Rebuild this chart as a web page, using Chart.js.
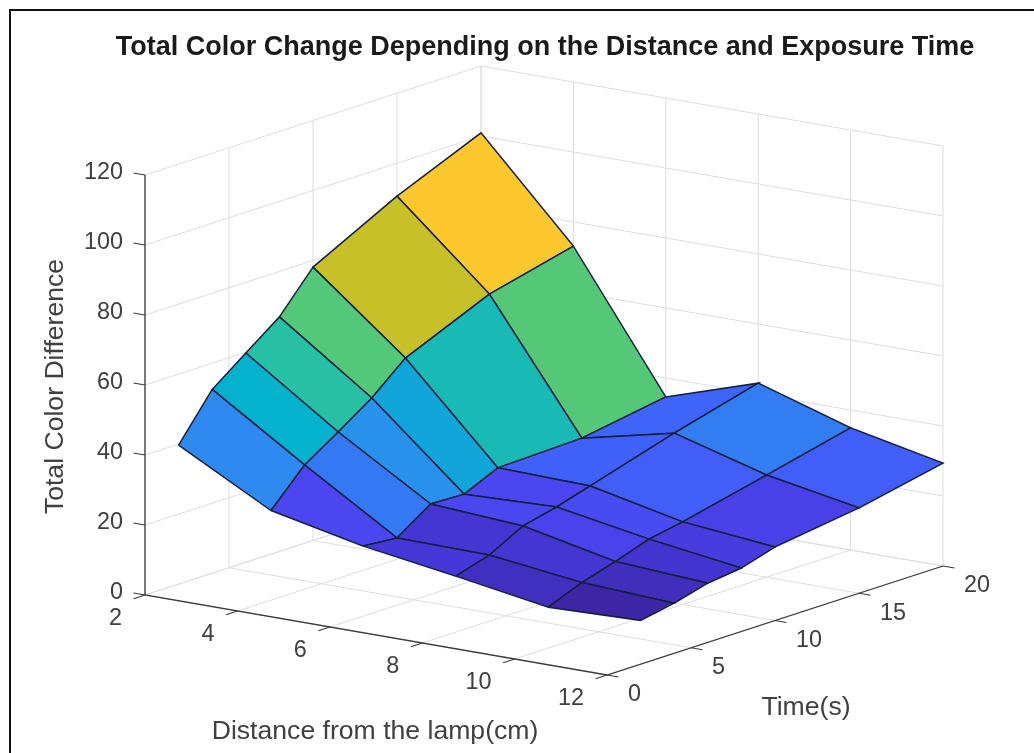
<!DOCTYPE html>
<html>
<head>
<meta charset="utf-8">
<title>Total Color Change</title>
<script src="https://cdn.jsdelivr.net/npm/chart.js@4"></script>
<style>
    html, body { margin: 0; padding: 0; background: #fff; }
    #wrap { position: relative; width: 1034px; height: 753px; overflow: hidden; }
    #frame { position: absolute; left: 9px; top: 9px; width: 1100px; height: 800px; border: 2px solid #111; }
    #chart { position: absolute; left: 0; top: 0; }
</style>
</head>
<body>
<div id="wrap">
    <div id="frame"></div>
    <canvas id="chart" width="1034" height="753"></canvas>
</div>
<script>
const distances = [2, 4, 6, 8, 10, 12];
const times = [2, 4, 6, 8, 10, 15, 20];

// Total colour difference, one row per time, one column per distance
const colorDiffT2 = [39.7, 25.6, 20.0, 16.0, 11.7, 12.5];
const colorDiffT4 = [52.5, 35.5, 19.2, 18.9, 15.6, 14.3];
const colorDiffT6 = [59.8, 41.8, 25.8, 24.1, 18.5, 16.9];
const colorDiffT8 = [67.0, 48.4, 25.5, 26.4, 21.8, 18.1];
const colorDiffT10 = [78.1, 56.7, 29.9, 29.3, 23.6, 21.0];
const colorDiffT15 = [90.6, 67.2, 30.6, 36.6, 29.2, 24.4];
const colorDiffT20 = [100.9, 73.1, 34.6, 43.1, 34.9, 29.4];
const colorDiff = [colorDiffT2, colorDiffT4, colorDiffT6, colorDiffT8, colorDiffT10, colorDiffT15, colorDiffT20];

const distanceTicks = [2, 4, 6, 8, 10, 12];
const timeTicks = [0, 5, 10, 15, 20];
const diffTicks = [0, 20, 40, 60, 80, 100, 120];

const titleText = 'Total Color Change Depending on the Distance and Exposure Time';
const distanceLabel = 'Distance from the lamp(cm)';
const timeLabel = 'Time(s)';
const diffLabel = 'Total Color Difference';

const GRID_COLOR = '#dddddd';
const AXIS_COLOR = '#3c3c3c';
const EDGE_COLOR = '#14203c';
const TEXT_COLOR = '#404040';
const FONT = '"Liberation Sans", Arial, sans-serif';

// Colormap stops (parula like), position 0-1 then rgb
const colormap = [
    [0, 60, 38, 165],
    [0.09, 70, 55, 215],
    [0.156, 75, 70, 240],
    [0.2, 64, 96, 250],
    [0.32, 45, 140, 240],
    [0.457, 5, 178, 205],
    [0.54, 40, 192, 165],
    [0.62, 82, 200, 120],
    [0.745, 200, 192, 40],
    [0.885, 253, 200, 46],
    [1, 249, 251, 20]
];

// Orthographic view of the 3D box onto the flat x/y scales of the chart
function project(d, t, z) {
    return {
        x: 145 + 46.2 * (d - 2) + 16.8 * t,
        y: 158 - 8 * (d - 2) + 5.45 * t + 3.5 * z
    };
}

function colorFor(value, min, max) {
    const pos = (value - min) / (max - min);
    for (let i = 1; i < colormap.length; i++) {
        const a = colormap[i - 1];
        const b = colormap[i];
        if (pos <= b[0]) {
            const f = (pos - a[0]) / (b[0] - a[0]);
            return `rgb(${a[1] + (b[1] - a[1]) * f}, ${a[2] + (b[2] - a[2]) * f}, ${a[3] + (b[3] - a[3]) * f})`;
        }
    }
    return 'rgb(249, 251, 20)';
}

function lineDataset(points, color, width) {
    return {
        data: points,
        showLine: true,
        pointRadius: 0,
        borderColor: color,
        borderWidth: width,
        fill: false,
        tension: 0
    };
}

// Drawn first: grid on floor and the two back walls
function buildGrid() {
    const sets = [];
    const dMin = distanceTicks[0];
    const dMax = distanceTicks[distanceTicks.length - 1];
    const tMin = timeTicks[0];
    const tMax = timeTicks[timeTicks.length - 1];
    const zMin = diffTicks[0];
    const zMax = diffTicks[diffTicks.length - 1];

    distanceTicks.forEach(d => {
        sets.push(lineDataset([project(d, tMin, zMin), project(d, tMax, zMin), project(d, tMax, zMax)], GRID_COLOR, 1));
    });
    timeTicks.forEach(t => {
        sets.push(lineDataset([project(dMax, t, zMin), project(dMin, t, zMin), project(dMin, t, zMax)], GRID_COLOR, 1));
    });
    diffTicks.forEach(z => {
        sets.push(lineDataset([project(dMin, tMin, z), project(dMin, tMax, z), project(dMax, tMax, z)], GRID_COLOR, 1));
    });
    return sets;
}

function buildAxes() {
    const sets = [];
    const dMin = distanceTicks[0];
    const dMax = distanceTicks[distanceTicks.length - 1];
    const tMin = timeTicks[0];
    const tMax = timeTicks[timeTicks.length - 1];
    const zMin = diffTicks[0];
    const zMax = diffTicks[diffTicks.length - 1];

    sets.push(lineDataset([project(dMin, tMin, zMax), project(dMin, tMin, zMin), project(dMax, tMin, zMin), project(dMax, tMax, zMin)], AXIS_COLOR, 1.3));

    // Tick marks run along the neighbouring axis
    distanceTicks.forEach(d => {
        sets.push(lineDataset([project(d, tMin, zMin), project(d, tMin - 0.68, zMin)], AXIS_COLOR, 1.2));
    });
    timeTicks.forEach(t => {
        sets.push(lineDataset([project(dMax, t, zMin), project(dMax + 0.25, t, zMin)], AXIS_COLOR, 1.2));
    });
    diffTicks.forEach(z => {
        sets.push(lineDataset([project(dMin, tMin, z), project(dMin - 0.25, tMin, z)], AXIS_COLOR, 1.2));
    });
    return sets;
}

// One closed dataset per surface cell, far cells first
function buildSurface() {
    const sets = [];
    const all = colorDiff.flat();
    const min = Math.min(...all);
    const max = Math.max(...all);

    for (let i = times.length - 2; i >= 0; i--) {
        for (let j = 0; j < distances.length - 1; j++) {
            const corners = [
                project(distances[j], times[i], colorDiff[i][j]),
                project(distances[j + 1], times[i], colorDiff[i][j + 1]),
                project(distances[j + 1], times[i + 1], colorDiff[i + 1][j + 1]),
                project(distances[j], times[i + 1], colorDiff[i + 1][j])
            ];
            corners.push(corners[0]);
            sets.push({
                data: corners,
                showLine: true,
                pointRadius: 0,
                borderColor: EDGE_COLOR,
                borderWidth: 1.5,
                backgroundColor: colorFor(colorDiff[i][j], min, max),
                fill: 'shape',
                tension: 0
            });
        }
    }
    return sets;
}

// Tick labels and axis titles
const axisText = {
    id: 'axisText',
    afterDatasetsDraw(chart) {
        const { ctx, scales } = chart;
        const px = p => ({ x: scales.x.getPixelForValue(p.x), y: scales.y.getPixelForValue(p.y) });

        ctx.save();
        ctx.fillStyle = TEXT_COLOR;
        ctx.textBaseline = 'middle';
        ctx.font = `23.4px ${FONT}`;

        ctx.textAlign = 'right';
        diffTicks.forEach(z => {
            const p = px(project(distanceTicks[0], timeTicks[0], z));
            ctx.fillText(String(z), p.x - 22, p.y - 2);
        });
        distanceTicks.forEach(d => {
            const p = px(project(d, timeTicks[0], diffTicks[0]));
            ctx.fillText(String(d), p.x - 23, p.y + 24);
        });
        ctx.textAlign = 'left';
        timeTicks.forEach(t => {
            const p = px(project(distanceTicks[distanceTicks.length - 1], t, diffTicks[0]));
            ctx.fillText(String(t), p.x + 21, p.y + 20);
        });

        ctx.font = `26.6px ${FONT}`;
        ctx.textAlign = 'center';
        ctx.fillText(distanceLabel, 375, 732);
        ctx.fillText(timeLabel, 806, 708);
        ctx.translate(56, 386.5);
        ctx.rotate(-Math.PI / 2);
        ctx.fillText(diffLabel, 0, 0);
        ctx.restore();
    }
};

document.addEventListener('DOMContentLoaded', () => {
    // Chart.js paints the first dataset on top, so flip the painter order
    const datasets = [...buildGrid(), ...buildAxes(), ...buildSurface()].reverse();

    new Chart(document.getElementById('chart').getContext('2d'), {
        type: 'scatter',
        data: { datasets },
        plugins: [axisText],
        options: {
            responsive: false,
            animation: false,
            layout: { padding: { left: 100, right: 44, top: 0, bottom: 0 } },
            scales: {
                x: { type: 'linear', display: false, min: 100, max: 990 },
                y: { type: 'linear', display: false, min: 0, max: 689 }
            },
            datasets: { scatter: { clip: false } },
            plugins: {
                legend: { display: false },
                tooltip: { enabled: false },
                filler: { drawTime: 'beforeDatasetDraw' },
                title: {
                    display: true,
                    text: titleText,
                    fullSize: false,
                    color: '#1a1a1a',
                    font: { family: FONT, size: 27, weight: 'bold', lineHeight: 1 },
                    padding: { top: 34, bottom: 3 }
                }
            }
        }
    });
});
</script>
</body>
</html>
